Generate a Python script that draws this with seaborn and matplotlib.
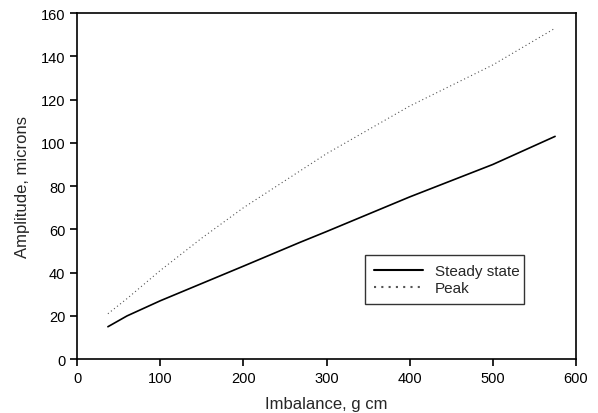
import pandas as pd
import numpy as np
import matplotlib
matplotlib.use('Agg')
import matplotlib.pyplot as plt
import seaborn as sns

# values
imbalance = [37, 60, 100, 150, 200, 268, 300, 400, 500, 575]
steady_state = [15, 20, 27, 35, 43, 54, 59, 75, 90, 103]
peak = [21, 28, 41, 56, 70, 87, 95, 117, 136, 153]

x_ticks = [0, 100, 200, 300, 400, 500, 600]
y_ticks = [0, 20, 40, 60, 80, 100, 120, 140, 160]

df = pd.DataFrame({
    'Imbalance': imbalance * 2,
    'Amplitude': steady_state + peak,
    'Series': ['Steady state'] * len(imbalance) + ['Peak'] * len(imbalance),
})

sns.set_style('ticks')
plt.rcParams['font.family'] = ['Liberation Sans', 'DejaVu Sans']

fig = plt.figure(figsize=(5.98, 4.14), dpi=100)
ax = fig.add_axes([0.129, 0.130, 0.834, 0.836])

sns.lineplot(data=df, x='Imbalance', y='Amplitude', hue='Series', style='Series',
             palette={'Steady state': 'black', 'Peak': '#555555'},
             dashes={'Steady state': '', 'Peak': (1, 2.5)},
             ax=ax)
lines = ax.get_lines()
lines[0].set_linewidth(1.2)
lines[1].set_linewidth(0.8)

ax.set_xlim(0, 600)
ax.set_ylim(0, 160)
ax.set_xticks(x_ticks)
ax.set_yticks(y_ticks)
ax.tick_params(direction='out', length=5, width=1.2, labelsize=10.5, colors='black')
ax.tick_params(top=False, right=False)
for sp in ax.spines.values():
    sp.set_visible(True)
    sp.set_color('black')
    sp.set_linewidth(1.2)

ax.set_xlabel('Imbalance, g cm', fontsize=12, labelpad=8)
ax.set_ylabel('Amplitude, microns', fontsize=12, labelpad=8)

# legend box placed where the reference has it
handles, labels = ax.get_legend_handles_labels()
leg = ax.legend(handles, labels, loc='lower left', bbox_to_anchor=(0.561, 0.136, 0.35, 0.159),
                mode='expand', fancybox=False, frameon=True, edgecolor='black',
                fontsize=11, handlelength=3.2, borderpad=0.6, labelspacing=0.2)
leg.get_frame().set_linewidth(1.0)

fig.savefig('out.png', dpi=100)
